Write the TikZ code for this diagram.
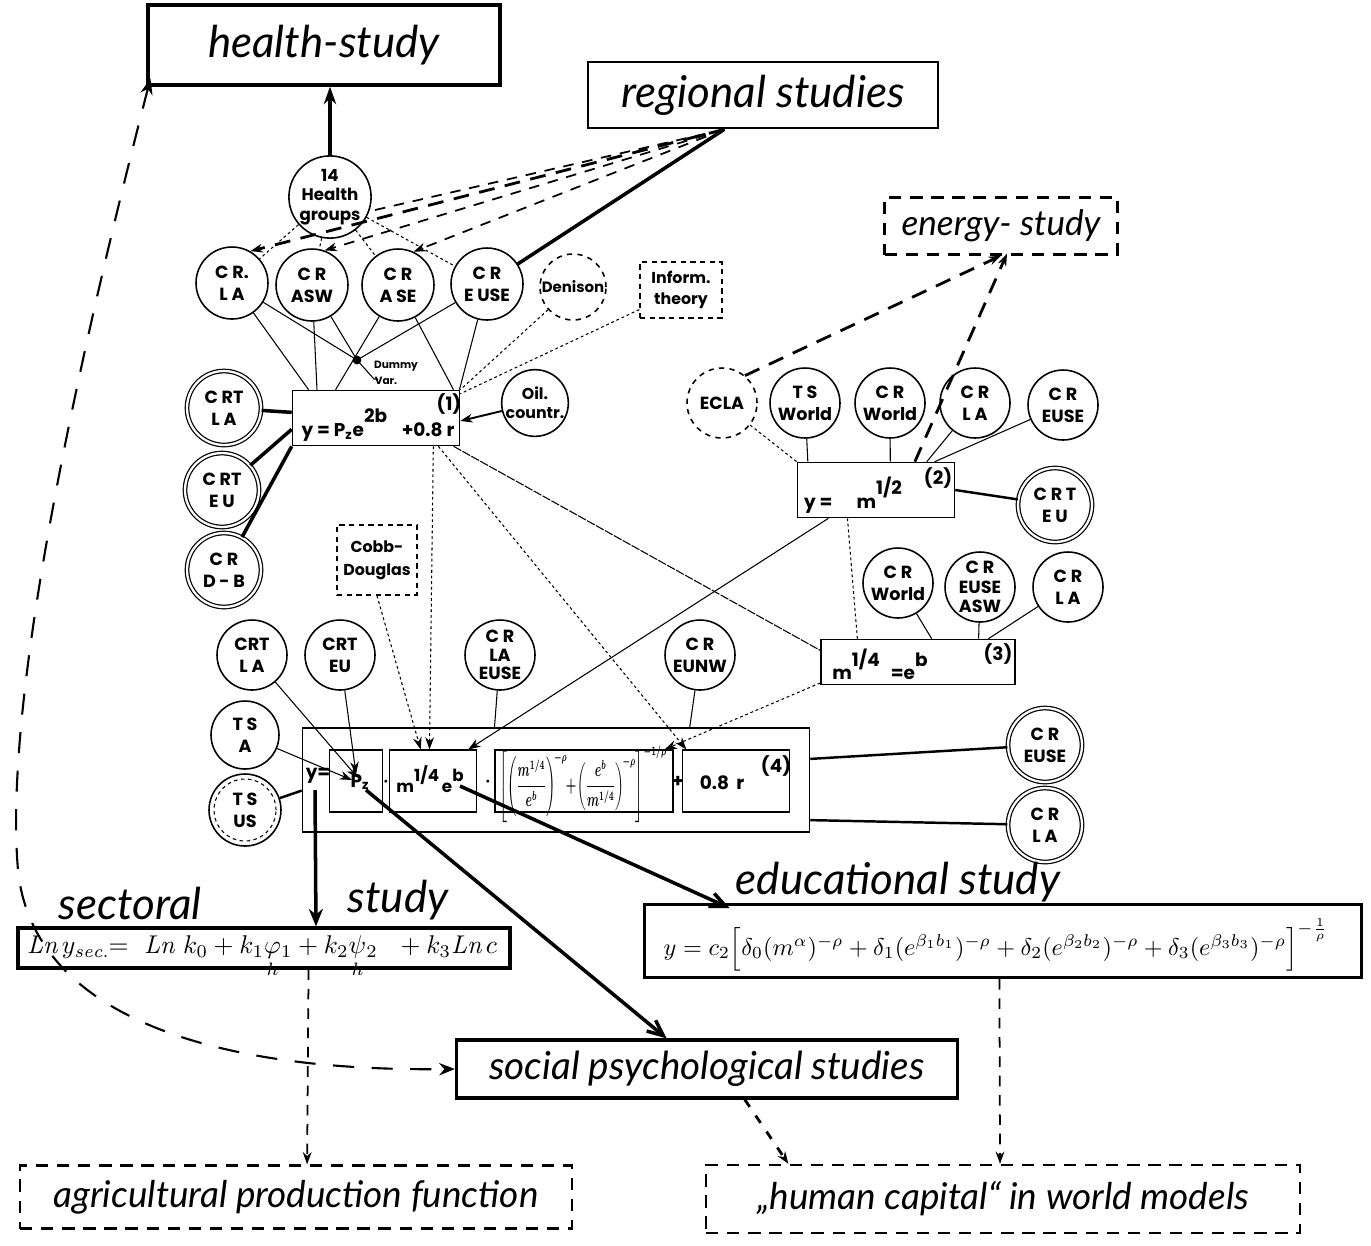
\documentclass[tikz,border=0pt]{standalone}
\usepackage{amsmath}
\usepackage{bm}
\usepackage{graphicx}
\usepackage{fontspec}
\newfontfamily\labf{Poppins}
\newfontfamily\hand{Lato}
\usetikzlibrary{arrows.meta,calc}
\begin{document}
\begin{tikzpicture}[x=0.02cm,y=-0.02cm,
 lab/.style={font=\labf\bfseries\fontsize{10}{12.5}\selectfont, align=center},
 circ/.style={circle, draw, line width=0.9pt, minimum size=1.4cm, inner sep=0pt, lab},
 dcirc/.style={circ, double, double distance=1.3pt, line width=0.7pt, minimum size=1.48cm},
 dashcirc/.style={circ, dash pattern=on 3pt off 3pt},
 ebox/.style={draw, line width=0.9pt, inner sep=0pt},
 hfont/.style={font=\hand\itshape\fontsize{25}{28}\selectfont},
 hbox/.style={draw, line width=1.8pt, inner sep=0pt, hfont},
 dbox/.style={draw, line width=1.3pt, dash pattern=on 7pt off 5pt, inner sep=0pt},
 eqt/.style={font=\labf\bfseries\fontsize{10.5}{13}\selectfont, inner sep=0pt},
 sline/.style={line width=0.6pt},
 dotl/.style={line width=0.6pt, dash pattern=on 1.6pt off 1.6pt},
 hvy/.style={line width=2pt},
 hdash/.style={line width=1.6pt, dash pattern=on 9pt off 6pt},
 mdash/.style={line width=1pt, dash pattern=on 6pt off 5pt},
 arr/.style={-{Stealth[length=7pt,width=5pt]}},
 oarr/.style={-{Straight Barb[length=9pt,width=8pt]}},
]
\useasboundingbox (0,0) rectangle (1371,1245);

% ---------- top study boxes
\node[hbox, minimum width=7.04cm, minimum height=1.6cm] (health) at (324,45) {health-study};
\node[hbox, line width=1.6pt, minimum width=7cm, minimum height=1.32cm] (reg) at (763,95) {regional studies};
\node[dbox, font=\hand\itshape\fontsize{20}{24}\selectfont, minimum width=4.66cm, minimum height=1.14cm] (energy) at (1001,226) {energy- study};

% ---------- first group
\node[circ, minimum size=1.52cm, font=\labf\bfseries\fontsize{9.5}{11}\selectfont] (hg) at (330,197) {14\\Health\\groups};
\node[circ, minimum size=1.44cm] (crla1) at (232,283) {C R.\\L A};
\node[circ, minimum size=1.44cm] (asw) at (312,285) {C R\\ASW};
\node[circ, minimum size=1.44cm] (ase) at (398,285) {C R\\A SE};
\node[circ, minimum size=1.44cm] (euse1) at (487,284) {C R\\E USE};
\node[dashcirc, minimum size=1.32cm, font=\labf\bfseries\fontsize{8.5}{10}\selectfont] (denison) at (573,287) {Denison};
\node[dbox, line width=0.8pt, dash pattern=on 3pt off 2.5pt, lab, font=\labf\bfseries\fontsize{9}{12}\selectfont, minimum width=1.64cm, minimum height=1.12cm] (inform) at (681,290) {Inform.\\theory};
\coordinate (dummy) at (357,360);
\node[ebox, minimum width=3.34cm, minimum height=1.1cm] (eq1) at (376,418) {};
\node[eqt] at (378,425) {y = P\textsubscript{z}e\raisebox{1.3ex}{2b}\hspace{0.8em}+0.8 r};
\node[eqt] at (449,404) {(1)};
\node[circ, minimum size=1.32cm, font=\labf\bfseries\fontsize{9}{11}\selectfont] (oil) at (535,403) {Oil.\\countr.};
\node[dcirc] (crtla1) at (224,408) {C RT\\L A};
\node[dcirc] (crteu1) at (222,490) {C RT\\E U};
\node[dcirc] (crdb) at (224,570) {C R\\D - B};
\node[dbox, line width=0.8pt, dash pattern=on 3pt off 2.5pt, lab, font=\labf\bfseries\fontsize{9}{13}\selectfont, minimum width=1.6cm, minimum height=1.4cm] (cobb) at (377,560) {Cobb-\\Douglas};

% ---------- second group
\node[dashcirc] (ecla) at (722,403) {ECLA};
\node[circ] (tsw) at (805,403) {T S\\World};
\node[circ] (crw1) at (890,403) {C R\\World};
\node[circ] (crla2) at (975,403) {C R\\L A};
\node[circ] (euse2) at (1063,405) {C R\\EUSE};
\node[ebox, minimum width=3.14cm, minimum height=1.1cm] (eq2) at (876,490) {};
\node[eqt] at (853,495) {y =\hspace{1.3em}m\raisebox{1.4ex}{1/2}};
\node[eqt] at (938,478) {(2)};
\node[dcirc] (crteu2) at (1055,505) {C R T\\E U};

% ---------- third group
\node[circ] (crw2) at (898,583) {C R\\World};
\node[circ, font=\labf\bfseries\fontsize{10}{11}\selectfont] (eusea) at (980,587) {C R\\EUSE\\ASW};
\node[circ] (crla3) at (1068,587) {C R\\L A};
\node[ebox, minimum width=3.88cm, minimum height=0.9cm] (eq3) at (918,662) {};
\node[eqt] at (880,664) {m\raisebox{1.3ex}{1/4}\hspace{0.6em}=e\raisebox{1.3ex}{b}};
\node[eqt] at (998,654) {(3)};

% ---------- fourth group
\node[circ] (crtla2) at (252,655) {CRT\\L A};
\node[circ] (crteu2b) at (340,655) {CRT\\EU};
\node[circ, font=\labf\bfseries\fontsize{10}{10.5}\selectfont] (crlaeuse) at (500,655) {C R\\LA\\EUSE};
\node[circ] (creunw) at (700,655) {C R\\EUNW};
\node[circ, minimum size=1.36cm] (tsa) at (245,735) {T S\\A};
\node[circ, minimum size=1.44cm] (tsus) at (245,810) {T S\\US};
\draw[line width=0.6pt, dash pattern=on 2pt off 2pt] (tsus.center) circle (0.62cm);
\node[ebox, minimum width=10.14cm, minimum height=2.08cm] (eq4) at (556,780) {};
\node[ebox, line width=0.6pt, minimum width=1.06cm, minimum height=1.24cm] (b1) at (356,781) {};
\node[ebox, line width=0.6pt, minimum width=1.74cm, minimum height=1.24cm] (b2) at (433,781) {};
\node[ebox, line width=0.6pt, minimum width=3.56cm, minimum height=1.24cm] (b3) at (584,781) {};
\node[ebox, line width=0.6pt, minimum width=2.14cm, minimum height=1.24cm] (b4) at (736,781) {};
\node[eqt] (yeq) at (318,776) {y=};
\node[eqt] at (360,782) {P\textsubscript{z}};
\node[eqt] at (386,782) {$\bm{\cdot}$};
\node[eqt, font=\labf\bfseries\fontsize{9.5}{12}\selectfont] at (430,779) {m\raisebox{1.2ex}{1/4}\,e\raisebox{1.2ex}{b}};
\node[eqt] at (488,782) {$\bm{\cdot}$};
\node[eqt] at (583,784) {\resizebox{3.35cm}{0.92cm}{\boldmath$\displaystyle\left[\left(\frac{m^{1/4}}{e^{b}}\right)^{\!-\rho}\!\!+\!\left(\frac{e^{b}}{m^{1/4}}\right)^{\!-\rho}\right]^{-1/\rho}$}};
\node[eqt] at (678,782) {+};
\node[eqt] at (722,783) {0.8\hspace{0.4em}r};
\node[eqt] at (776,766) {(4)};
\node[dcirc] (creuse3) at (1045,745) {C R\\EUSE};
\node[dcirc] (crla4) at (1045,825) {C R\\L A};
\coordinate (pz) at (358,778);
\coordinate (eb) at (460,786);

% ---------- lower study boxes
\node[hfont] at (130,903) {sectoral};
\node[hfont] at (398,900) {study};
\node[draw, line width=1.8pt, minimum width=9.84cm, minimum height=0.8cm, inner sep=0pt] (sect) at (264,948) {};
\node[inner sep=0pt] at (262,947) {\resizebox{9.4cm}{!}{$\mathit{Ln}\,y_{\mathit{sec.}}\!\!=\ \mathit{Ln}\ k_0+k_1\smash[b]{\underset{h}{\varphi}}_1+k_2\smash[b]{\underset{h}{\psi}}_2\ \ +k_3\mathit{Ln}\,c$}};
\node[hfont] (edlab) at (898,882) {educational study};
\node[draw, line width=1.8pt, minimum width=14.34cm, minimum height=1.46cm, inner sep=0pt] (educ) at (1003,941) {};
\node[inner sep=0pt] at (996,945) {\resizebox{13.3cm}{!}{$y=c_2\Bigl[\delta_0(m^{\alpha})^{-\rho}+\delta_1(e^{\beta_1b_1})^{-\rho}+\delta_2(e^{\beta_2b_2})^{-\rho}+\delta_3(e^{\beta_3b_3})^{-\rho}\Bigr]^{-\frac{1}{\rho}}$}};
\node[hbox, font=\hand\itshape\fontsize{22}{26}\selectfont, minimum width=10.02cm, minimum height=1.16cm] (social) at (707,1069) {social psychological studies};
\node[dbox, font=\hand\itshape\fontsize{21}{26}\selectfont, minimum width=11.04cm, minimum height=1.26cm] (agri) at (296,1197) {agricultural production function};
\node[dbox, font=\hand\itshape\fontsize{21}{26}\selectfont, minimum width=11.88cm, minimum height=1.36cm] (human) at (1003,1199) {{\char"201E}human capital{\char"201C} in world models};

% ---------- connectors: top
\draw[hvy, -{Stealth[length=10pt,width=7pt]}] (hg.north) -- (health.south -| hg.north);
\coordinate (regP) at ($(reg.south west)!0.39!(reg.south east)$);
\draw[hvy] (regP) -- (euse1);
\draw[hdash, arr] (regP) -- (crla1.60);
\draw[mdash, arr] (regP) -- (asw.70);
\draw[mdash, arr] (regP) -- (ase.65);
\draw[mdash] (regP) -- (hg.-20);
\foreach \t in {crla1,asw,ase,euse1} \draw[dotl] (hg) -- (\t);

% row1 to eq1
\coordinate (e1a) at ($(eq1.north west)!0.10!(eq1.north east)$);
\coordinate (e1b) at ($(eq1.north west)!0.15!(eq1.north east)$);
\coordinate (e1c) at ($(eq1.north west)!0.26!(eq1.north east)$);
\coordinate (e1d) at ($(eq1.north west)!0.96!(eq1.north east)$);
\coordinate (e1e) at ($(eq1.north west)!0.995!(eq1.north east)$);
\draw[sline] (crla1) -- (e1a);
\draw[sline] (crla1) -- (dummy);
\draw[sline] (asw) -- (e1b);
\draw[sline] (asw) -- (dummy);
\draw[sline] (ase) -- (e1c);
\draw[sline] (ase) -- (e1d);
\draw[sline] (euse1) -- (dummy);
\draw[sline] (euse1) -- (e1e);
\fill (dummy) circle (2.5pt);
\draw[sline] (dummy) -- (374,379) -- (378,379);
\node[font=\labf\bfseries\fontsize{6}{7}\selectfont] at (396,366) {Dummy};
\node[font=\labf\bfseries\fontsize{6}{7}\selectfont] at (386,381) {Var.};
\draw[dotl] (denison) -- (eq1.north east);
\draw[dotl] (inform) -- ($(eq1.north east)+(0,4)$);
\draw[line width=1.1pt, arr] (oil) -- ($(eq1.east)+(0,3)$);
\draw[hvy] (crtla1) -- ($(eq1.north west)!0.4!(eq1.south west)$);
\draw[hvy] (crteu1) -- ($(eq1.north west)!0.7!(eq1.south west)$);
\draw[hvy] (crdb) -- (eq1.south west);

% second group
\draw[hdash, arr] (ecla.50) -- (energy.south);
\draw[hdash, arr] ($(eq2.north west)!0.745!(eq2.north east)$) -- ($(energy.south)+(6,-2)$);
\draw[dotl] (ecla) -- (eq2.north west);
\draw[sline] (tsw) -- ($(eq2.north west)!0.07!(eq2.north east)$);
\draw[sline] (crw1) -- ($(eq2.north west)!0.59!(eq2.north east)$);
\draw[sline] (crla2) -- ($(eq2.north west)!0.82!(eq2.north east)$);
\draw[sline] (euse2) -- ($(eq2.north west)!0.87!(eq2.north east)$);
\draw[line width=1.4pt] (crteu2) -- (eq2.east);
\draw[dotl] ($(eq2.south west)!0.32!(eq2.south east)$) -- ($(eq3.north west)!0.19!(eq3.north east)$);

% third group
\draw[sline] (crw2) -- ($(eq3.north west)!0.57!(eq3.north east)$);
\draw[sline] (eusea) -- ($(eq3.north west)!0.81!(eq3.north east)$);
\draw[sline] (crla3) -- ($(eq3.north west)!0.86!(eq3.north east)$);

% long connections between equations
\draw[dotl, arr] ($(eq1.south west)!0.84!(eq1.south east)$) -- ($(b2.north west)!0.46!(b2.north east)$);
\draw[dotl, arr] (cobb.south) -- ($(b2.north west)!0.36!(b2.north east)$);
\draw[dotl, arr] ($(eq1.south west)!0.87!(eq1.south east)$) -- ($(b4.north west)!0.04!(b4.north east)$);
\draw[sline, dash pattern=on 5pt off 0.8pt] ($(eq1.south west)!0.96!(eq1.south east)$) -- ($(eq3.north west)!0.25!(eq3.south west)$);
\draw[sline, arr] ($(eq2.south west)!0.2!(eq2.south east)$) -- ($(b2.north west)!0.9!(b2.north east)$);
\draw[dotl, arr] ($(eq3.north west)!0.95!(eq3.south west)$) -- ($(b3.north west)!0.95!(b3.north east)$);

% fourth group
\draw[sline, arr] (crtla2) -- (pz);
\draw[sline, arr] (crteu2b) -- ($(pz)+(-2,-4)$);
\draw[sline, arr] (tsa) -- ($(pz)+(-6,2)$);
\draw[line width=1.4pt] (tsus) -- ($(eq4.north west)!0.6!(eq4.south west)$);
\draw[sline] (crlaeuse) -- ($(eq4.north west)!0.379!(eq4.north east)$);
\draw[sline] (creunw) -- ($(eq4.north west)!0.763!(eq4.north east)$);
\draw[line width=1.4pt] (creuse3) -- ($(eq4.north east)!0.3!(eq4.south east)$);
\draw[line width=1.4pt] (crla4) -- ($(eq4.north east)!0.88!(eq4.south east)$);

% to the lower studies
\draw[hvy, -{Stealth[length=10pt,width=8pt]}] (315,790) -- ($(sect.north west)!0.605!(sect.north east)$);
\draw[hvy, oarr] ($(pz)+(8,12)$) -- ($(social.north west)!0.42!(social.north east)$);
\draw[hvy, oarr] (eb) -- (edlab.south west);
\draw[mdash, arr] ($(sect.south west)!0.59!(sect.south east)$) -- ($(agri.north west)!0.52!(agri.north east)$);
\draw[mdash, arr] ($(educ.south west)!0.495!(educ.south east)$) -- ($(human.north west)!0.495!(human.north east)$);
\draw[line width=1.6pt, dash pattern=on 5pt off 6pt, arr] ($(social.south west)!0.575!(social.south east)$) -- ($(human.north west)!0.14!(human.north east)$);

% big dashed curve
\draw[line width=1.2pt, dash pattern=on 12pt off 10pt, {Stealth[length=9pt,width=7pt]}-{Stealth[length=9pt,width=7pt]}]
  ($(health.south west)+(4,-8)$) .. controls (60,430) and (5,720) .. (18,870) .. controls (32,1010) and (200,1072) .. (social.west);
\end{tikzpicture}
\end{document}
